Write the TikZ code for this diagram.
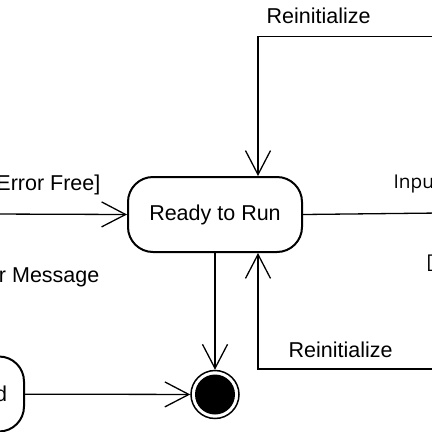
\documentclass[tikz,border=0pt]{standalone}
\usepackage{fontspec}
\setmainfont{Liberation Sans}
\newfontfamily\guardfont{Open Sans}
\usetikzlibrary{arrows.meta}
\begin{document}
\begin{tikzpicture}[x=1pt,y=-1pt,->,>={Straight Barb[length=24pt,width=25pt]},line width=1.3pt]
    \tikzstyle{every node}=[font=\fontsize{21.5}{24}\selectfont,inner sep=0pt];
    \tikzstyle{state}=[draw,line width=2pt,rounded corners=25pt,minimum width=174pt,minimum height=75pt];
    \tikzstyle{lbl}=[anchor=base west];
    \useasboundingbox (0,0) rectangle (432,432);
    \clip (0,0) rectangle (432,432);
    \node[state] at (215,214.5) (ready) {Ready to Run};
    \node[state,anchor=east,text width=140pt,align=right,inner xsep=17pt] at (25,394) (errd) {d};
    \node[circle,draw,line width=1.5pt,minimum size=48pt] at (215,394.5) (final) {};
    \fill (final.center) circle (20pt);
    \coordinate (topin) at (440,36.5);
    \coordinate (botin) at (440,369);
    \coordinate (rightout) at (440,213);
    \coordinate (leftin) at (-10,214);
\node[lbl] at (266,23) (reinittop) {Reinitialize};
\node[lbl] at (288,357) (reinitbot) {Reinitialize};
\node[anchor=base east] at (101,190) (errfree) {[Error Free]};
\node[anchor=base east] at (100,282) (errmsg) {r Message};
\node[lbl,font=\guardfont\fontsize{19}{22}\selectfont] at (393,188) (inp) {Input};
\node[lbl,font=\guardfont\fontsize{19}{22}\selectfont] at (426,268) (guard) {[D};
\draw (topin) -| ([xshift=43pt]ready.north);
\draw (botin) -| ([xshift=43pt]ready.south);
\draw[-] (ready.east) -- (rightout);
\draw (leftin) -- (ready.west);
\draw (ready) -- (final);
\draw (errd) -- (final);
\end{tikzpicture}
\end{document}
